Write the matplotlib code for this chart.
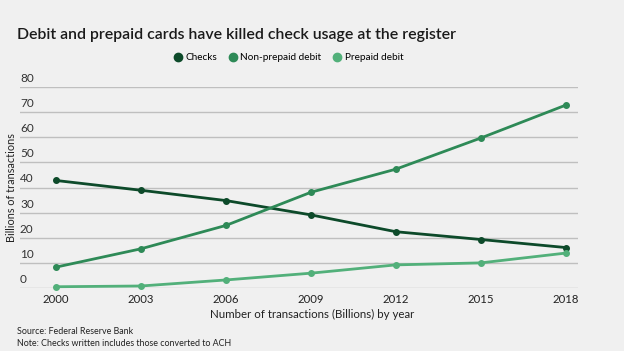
import matplotlib
matplotlib.use("Agg")
import matplotlib.pyplot as plt
import matplotlib.transforms as mtransforms

years = [2000, 2003, 2006, 2009, 2012, 2015, 2018]
checks = [42.8, 38.9, 34.8, 29.1, 22.4, 19.3, 16.1]
non_prepaid = [8.3, 15.6, 24.9, 38.1, 47.3, 59.7, 72.8]
prepaid = [0.5, 0.8, 3.2, 5.9, 9.2, 10.0, 13.9]
series_names = ["Checks", "Non-prepaid debit", "Prepaid debit"]
colors = ["#0d4a2a", "#2e8a57", "#52b07a"]
yticks = [0, 10, 20, 30, 40, 50, 60, 70, 80]

plt.rcParams['font.family'] = ['Lato', 'DejaVu Sans']
bg = "#f0f0f0"
fig = plt.figure(figsize=(6.24, 3.51), dpi=100, facecolor=bg)
ax = fig.add_axes([20/624, 1-288/351, (578-20)/624, (288-87)/351])
ax.set_facecolor(bg)

for vals, name, c in zip([checks, non_prepaid, prepaid], series_names, colors):
    ax.plot(years, vals, color=c, lw=2.0, marker='o', ms=4, label=name,
            clip_on=False, zorder=3)

ax.set_xlim(1998.73, 2018.43)
ax.set_ylim(0, 80)
ax.set_yticks(yticks)
ax.set_yticklabels([])
ax.tick_params(axis='y', length=0)
ax.grid(axis='y', color='#bfbfbf', lw=1)
ax.set_axisbelow(True)
for s in ax.spines.values():
    s.set_visible(False)
ax.set_xticks(years)
ax.set_xticklabels([str(y) for y in years], fontsize=8.2, color='#222222')
ax.tick_params(axis='x', length=0, pad=4)

trans = mtransforms.blended_transform_factory(ax.transAxes, ax.transData)
for t in yticks:
    ax.text(0.0, t + 1.2, str(t), transform=trans, ha='left', va='bottom',
            fontsize=8.5, color='#333333')

fig.text(12/624, 1-188/351, "Billions of transactions", rotation=90,
         ha='center', va='center', fontsize=7.8, color='#222222')
fig.text(312/624, 1-314/351, "Number of transactions (Billions) by year",
         ha='center', va='center', fontsize=8.3, color='#222222')
fig.text(17/624, 1-331/351, "Source: Federal Reserve Bank",
         ha='left', va='center', fontsize=6.4, color='#222222')
fig.text(17/624, 1-344/351, "Note: Checks written includes those converted to ACH",
         ha='left', va='center', fontsize=6.4, color='#222222')
fig.text(17/624, 1-35/351, "Debit and prepaid cards have killed check usage at the register",
         ha='left', va='center', fontsize=11.4, fontweight='semibold', color='#1a1a1a')

leg = fig.legend(loc='center', bbox_to_anchor=(289/624, 1-58/351), ncol=3,
                 frameon=False, fontsize=7.2, handlelength=0.7, handletextpad=0.4,
                 columnspacing=1.2)
for h in leg.legend_handles:
    h.set_linestyle('None')
    h.set_markersize(6)

fig.savefig("out.png", dpi=100, facecolor=bg)
